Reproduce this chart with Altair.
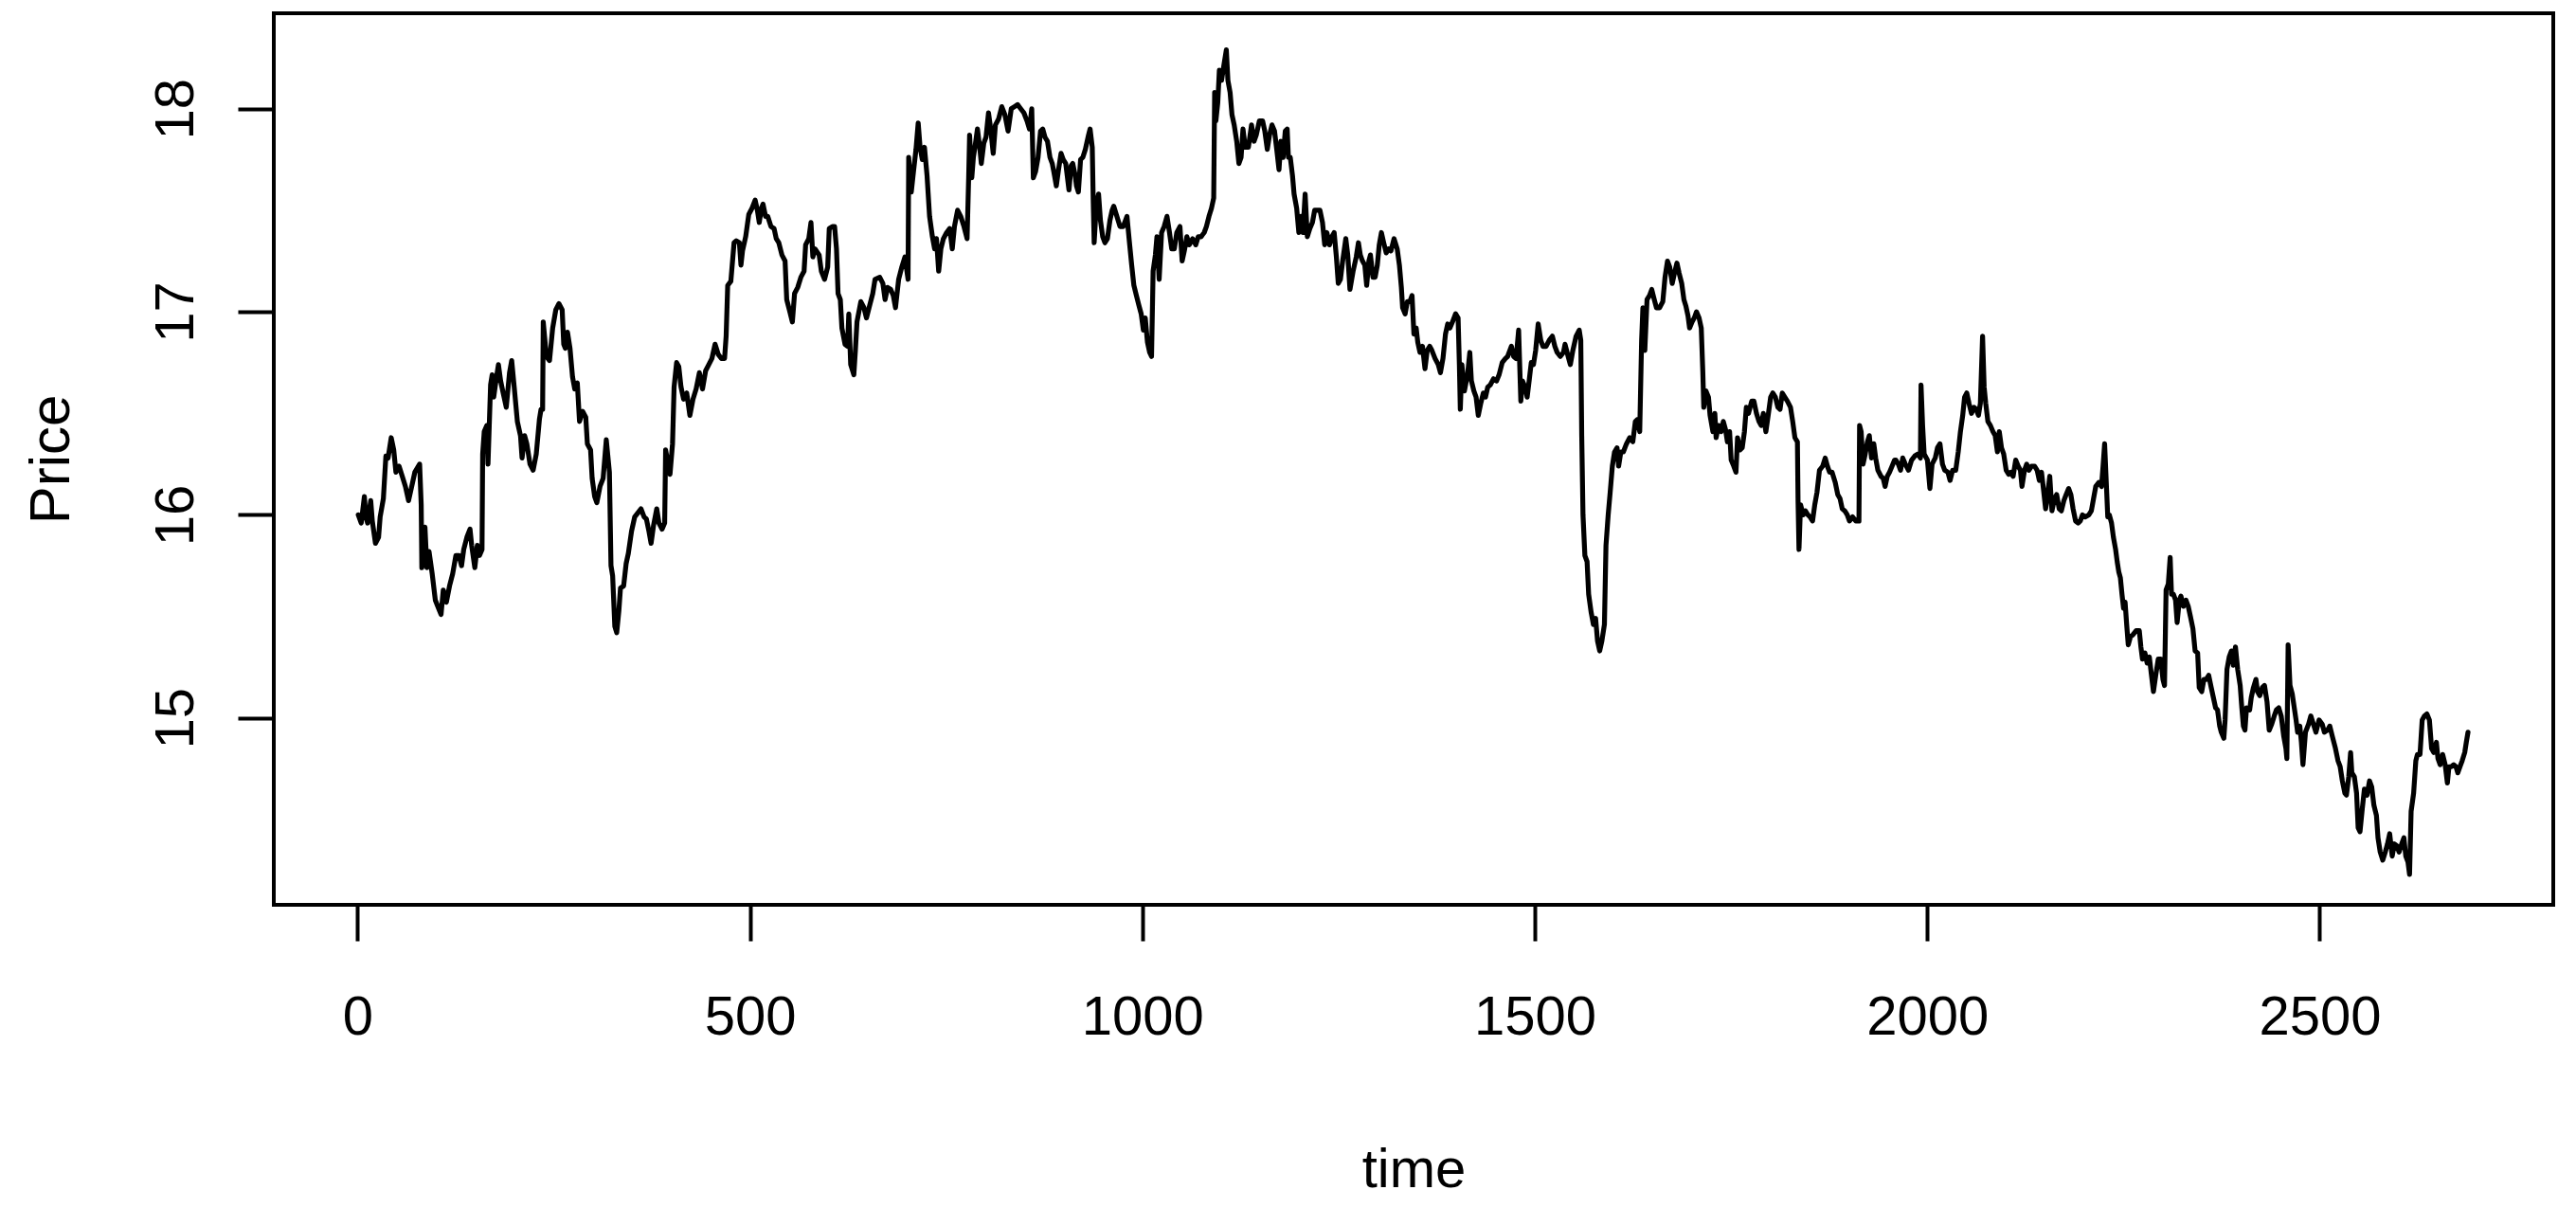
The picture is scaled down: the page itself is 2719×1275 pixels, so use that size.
import altair as alt
import pandas as pd

# time index and price, segment by segment
time = [
    # A
    1, 4.8, 8.8, 10.8, 12.9, 16.9, 18.9, 22.9, 26.9, 28.9,
    33.0, 36.2, 39.0, 43.0, 46.2, 49.0, 53.0, 57.1, 61.1, 65.1,
    69.1, 73.1, 79.2, 81.2, 82.0, 86.0, 88.4, 91.2, 95.2, 99.2,
    103.3, 106.5, 109.3, 113.3, 117.3, 121.3, 125.4, 129.4, 132.6, 135.4,
    139.4, 143.4, 145.5, 149.5, 152.7, 155.5, 158.7, 159.5, 161.5, 164.7,
    166.3, 169.6, 171.6, 173.6, 176.8, 179.6, 182.4, 185.6, 189.6, 193.7,
    196.5, 199.7, 203.7, 207.7, 209.7, 213.0, 215.8, 219.8, 223.8, 227.8,
    231.8, 233.9, 235.9, 236.7,
    # B
    240.7, 244.7, 248.7, 252.7, 256.7, 260.8, 262.8, 264.8, 267.6, 270.8,
    274.0, 276.8, 280.1, 282.9, 286.9, 290.9, 292.9, 297.0, 299.0, 302.2,
    305.0, 309.0, 313.0, 317.0, 319.0, 321.0, 323.0, 325.1, 327.9, 330.3,
    333.1, 335.1, 339.1, 342.3, 345.1, 349.2, 353.2, 357.2, 361.2, 365.2,
    368.1, 371.3, 374.1, 377.3, 381.3, 384.1, 388.1, 391.4, 392.6, 395.4,
    398.2, 401.4, 403.4, 406.6, 409.4, 412.2, 415.5, 419.5, 423.5, 427.5,
    431.5, 435.6, 439.6, 443.6, 447.6, 451.6, 455.6, 459.7, 463.7, 467.7,
    469.7, 471.7, 475.7, 479.8, 482.6,
    # C
    486.6, 488.6, 490.6, 494.6, 498.6, 502.7, 506.7, 509.5, 511.9, 514.7,
    516.7, 519.9, 522.7, 526.8, 530.8, 533.6, 536.8, 540.8, 544.8, 546.9,
    550.9, 554.1, 556.9, 560.9, 564.9, 569.0, 571.0, 575.0, 577.8, 580.2,
    583.0, 588.2, 591.0, 595.1, 599.1, 601.1, 605.1, 607.9, 610.3, 612.3,
    615.2, 617.2, 621.2, 624.4, 626.0, 628.4, 632.4, 634.4, 636.4, 641.3,
    645.3, 648.5, 652.5, 656.5, 659.4, 665.4, 669.4, 672.2, 675.4, 679.4,
    682.7, 685.5, 689.5, 693.5, 697.5, 701.5, 702.3, 705.6, 708.4, 711.6,
    714.4, 716.8, 719.6, 722.4, 725.7, 728.9,
    # D
    732.5, 735.3, 737.7, 740.5, 743.3, 746.5, 750.6, 754.6, 757.8, 760.6,
    764.6, 768.6, 772.7, 776.7, 778.7, 779.9, 782.7, 784.7, 786.7, 789.9,
    792.8, 794.8, 798.0, 800.8, 804.0, 806.8, 810.0, 812.8, 816.9, 820.9,
    824.9, 828.9, 833.0, 837.0, 841.0, 845.0, 849.0, 853.0, 856.2, 859.1,
    861.1, 863.9, 867.1, 870.3, 873.1, 875.9, 879.1, 882.3, 885.2, 887.2,
    890.4, 893.2, 896.4, 899.2, 902.4, 906.5, 909.3, 911.3, 914.5, 916.1,
    918.5, 921.3, 924.1, 927.4, 931.4, 933.4, 936.2, 937.4, 938.6, 941.4,
    944.2, 946.6, 949.5, 952.3, 955.5, 958.7, 961.5, 963.5, 967.5, 971.5,
    975.6,
    # E
    980.4, 983.6, 986.4, 989.2, 992.4, 995.7, 998.5, 1001.3, 1003.7, 1006.5,
    1009.3, 1011.7, 1013.7, 1016.6, 1018.6, 1021.4, 1024.5, 1027.8, 1031.4, 1034.6,
    1037.4, 1040.7, 1043.9, 1047.9, 1050.7, 1053.5, 1056.7, 1059.9, 1064.0, 1068.0,
    1071.2, 1074.8, 1078.8, 1081.6, 1084.9, 1088.1, 1090.9, 1092.1, 1093.7, 1096.1,
    1098.1, 1100.9, 1104.1, 1107.0, 1109.0, 1111.8, 1114.2, 1117.0, 1120.2, 1123.0,
    1125.8, 1128.2, 1131.1, 1135.1, 1139.1, 1142.3, 1145.1, 1149.1, 1153.2, 1156.0,
    1159.2, 1162.0, 1165.2, 1168.4, 1171.2, 1174.1, 1176.5, 1179.3, 1182.1, 1184.5,
    1186.1, 1188.5, 1191.3, 1193.3, 1196.6, 1199.4, 1202.2, 1204.6, 1207.4, 1210.2,
    1213.4, 1216.7, 1219.5,
    # F
    1222.3, 1226.3, 1229.5, 1232.3, 1235.1, 1238.4, 1241.6, 1244.4, 1247.2, 1249.6,
    1252.4, 1255.2, 1259.2, 1261.7, 1264.5, 1268.5, 1272.5, 1275.3, 1277.7, 1280.5,
    1283.4, 1285.8, 1288.6, 1290.6, 1293.8, 1296.6, 1299.4, 1301.8, 1304.6, 1307.5,
    1310.7, 1313.9, 1316.7, 1320.7, 1324.7, 1327.5, 1330.0, 1331.6, 1334.8, 1337.6,
    1340.8, 1343.6, 1346.0, 1348.9, 1350.9, 1353.7, 1356.9, 1360.1, 1362.9, 1366.1,
    1368.9, 1372.9, 1377.0, 1379.8, 1383.0, 1386.2, 1389.0, 1391.8, 1395.1, 1399.1,
    1402.3, 1403.9, 1405.1, 1407.1, 1410.3, 1414.3, 1417.2, 1419.2, 1422.4, 1425.2,
    1428.0, 1431.2, 1434.4, 1437.2, 1440.1, 1443.3, 1447.3, 1451.3, 1454.5, 1458.5,
    1462.6, 1465.4,
    # G
    1468.2, 1470.2, 1473.0, 1476.2, 1479.4, 1482.2, 1484.3, 1487.5, 1490.3, 1493.1,
    1495.5, 1498.3, 1501.1, 1504.3, 1507.6, 1510.4, 1514.4, 1518.4, 1522.4, 1525.6,
    1528.5, 1532.5, 1536.5, 1538.5, 1542.5, 1545.3, 1548.5, 1552.6, 1556.6, 1558.6,
    1559.8, 1561.4, 1563.8, 1566.6, 1568.6, 1571.8, 1574.7, 1577.5, 1579.9, 1582.7,
    1585.5, 1588.7, 1590.7, 1593.5, 1596.0, 1598.8, 1601.6, 1604.8, 1606.8, 1609.6,
    1612.8, 1616.8, 1620.9, 1624.9, 1628.1, 1630.9, 1633.7, 1636.1, 1637.7, 1640.2,
    1643.0, 1646.2, 1649.0, 1652.2, 1655.0, 1659.0, 1663.1, 1665.9, 1669.1, 1671.9,
    1675.1, 1677.9, 1681.1, 1683.9, 1687.2, 1690.0, 1692.4, 1695.2, 1697.2, 1700.4,
    1703.2, 1706.0, 1709.3, 1712.1, 1714.1, 1715.3, 1718.1, 1721.3, 1723.3,
    # H
    1726.9, 1729.4, 1731.0, 1734.2, 1737.4, 1740.2, 1743.0, 1745.4, 1748.2, 1750.2,
    1753.5, 1756.3, 1758.3, 1761.5, 1764.3, 1767.1, 1769.5, 1772.3, 1776.4, 1779.2,
    1782.4, 1785.6, 1788.4, 1791.2, 1794.4, 1797.7, 1800.5, 1803.3, 1806.5, 1809.7,
    1812.5, 1815.3, 1818.5, 1821.8, 1825.8, 1828.6, 1831.4, 1834.6, 1835.4, 1836.6,
    1838.6, 1841.9, 1844.7, 1847.9, 1850.7, 1853.9, 1856.7, 1859.5, 1862.7, 1866.8,
    1870.0, 1872.8, 1875.6, 1878.8, 1882.8, 1886.0, 1888.9, 1891.7, 1894.9, 1898.1,
    1900.9, 1904.9, 1909.0, 1913.0, 1913.8, 1915.8, 1918.2, 1921.0, 1923.8, 1926.2,
    1929.0, 1931.9, 1934.3, 1937.1, 1941.1, 1943.9, 1946.3, 1949.1, 1951.9, 1955.2,
    1958.4,
    # I
    1960.0, 1963.2, 1966.0, 1968.8, 1972.0, 1976.1, 1980.1, 1984.1, 1988.1, 1991.3,
    1992.1, 1994.1, 1996.1, 2000.2, 2003.4, 2006.2, 2010.2, 2013.0, 2016.2, 2019.4,
    2022.3, 2026.3, 2029.1, 2032.3, 2036.3, 2039.5, 2042.3, 2045.2, 2047.6, 2050.4,
    2053.2, 2056.4, 2059.6, 2062.4, 2065.3, 2067.7, 2070.5, 2072.5, 2074.5, 2077.3,
    2080.5, 2083.7, 2086.6, 2089.4, 2091.8, 2094.6, 2097.4, 2100.6, 2103.8, 2106.6,
    2109.4, 2112.7, 2115.9, 2118.7, 2120.7, 2123.9, 2126.7, 2129.5, 2132.8, 2136.8,
    2140.0, 2142.8, 2145.6, 2148.0, 2150.8, 2152.8, 2156.1, 2158.9, 2162.1, 2164.9,
    2168.1, 2170.9, 2174.1, 2177.0, 2180.2, 2183.0, 2185.8, 2189.0, 2192.2, 2195.0,
    2197.8, 2201.1,
    # J
    2205.9, 2209.1, 2211.9, 2214.7, 2218.7, 2222.0, 2224.0, 2226.0, 2228.0, 2230.0,
    2232.0, 2234.8, 2237.2, 2240.0, 2242.0, 2244.0, 2246.1, 2248.1, 2250.1, 2252.1,
    2254.1, 2256.1, 2258.9, 2262.1, 2266.2, 2270.2, 2272.2, 2274.2, 2277.4, 2280.2,
    2283.0, 2285.4, 2288.2, 2291.1, 2294.3, 2297.5, 2300.3, 2302.3, 2304.3, 2307.1,
    2309.5, 2311.2, 2313.6, 2316.4, 2318.4, 2321.2, 2323.2, 2326.4, 2329.6, 2332.5,
    2335.3, 2338.5, 2341.3, 2344.5, 2346.5, 2349.7, 2352.5, 2355.3, 2358.6, 2361.8,
    2364.6, 2367.4, 2369.8, 2372.6, 2374.6, 2377.9, 2379.5, 2381.9, 2384.7, 2387.5,
    2389.9, 2392.7, 2395.5, 2398.7, 2400.8, 2402.8, 2404.8, 2406.8, 2410.8, 2412.8,
    2415.6, 2418.8, 2420.8, 2423.7, 2426.9, 2429.7, 2432.9, 2435.7, 2438.9, 2442.1,
    2444.9, 2447.8, 2451.0, 2454.2, 2457.0, 2458.2, 2459.8, 2462.2, 2465.0,
    # K
    2469.9, 2471.9, 2474.7, 2476.7, 2478.7, 2481.9, 2485.9, 2488.7, 2492.0, 2495.2,
    2499.2, 2503.2, 2506.0, 2510.0, 2512.9, 2516.1, 2520.1, 2523.3, 2526.1, 2528.9,
    2532.1, 2534.1, 2537.0, 2539.4, 2541.0, 2544.2, 2547.0, 2549.0, 2551.4, 2554.2,
    2557.0, 2560.3, 2563.5, 2566.3, 2569.1, 2572.3, 2574.3, 2577.1, 2580.4, 2583.6,
    2586.4, 2589.2, 2592.4, 2595.2, 2598.4, 2601.2, 2604.5, 2607.3, 2609.7, 2612.5,
    2614.5, 2616.5, 2619.7, 2622.5, 2624.5, 2627.8, 2630.6, 2633.4, 2636.6, 2639.8,
    2642.6, 2645.4, 2648.7, 2650.7, 2653.5, 2656.7, 2659.9, 2662.7, 2664.7, 2667.5,
    2670.8, 2673.6, 2676.0, 2678.8, 2681.6, 2684.8, 2686.8, 2689.0,
]

price = [
    # A
    16.00, 15.96, 16.09, 15.99, 15.96, 16.07, 15.97, 15.86, 15.89, 15.99,
    16.08, 16.29, 16.28, 16.38, 16.32, 16.21, 16.24, 16.19, 16.14, 16.07,
    16.14, 16.21, 16.25, 16.05, 15.74, 15.94, 15.74, 15.82, 15.71, 15.58,
    15.54, 15.51, 15.63, 15.57, 15.65, 15.71, 15.80, 15.80, 15.75, 15.83,
    15.89, 15.93, 15.85, 15.74, 15.85, 15.80, 15.83, 16.30, 16.41, 16.44,
    16.25, 16.64, 16.69, 16.58, 16.67, 16.74, 16.66, 16.60, 16.53, 16.70,
    16.76, 16.63, 16.46, 16.39, 16.28, 16.39, 16.35, 16.25, 16.22, 16.30,
    16.47, 16.52, 16.52, 16.95,
    # B
    16.78, 16.76, 16.92, 17.01, 17.04, 17.01, 16.84, 16.82, 16.90, 16.82,
    16.68, 16.62, 16.65, 16.46, 16.51, 16.48, 16.35, 16.32, 16.18, 16.09,
    16.06, 16.14, 16.18, 16.37, 16.29, 16.21, 15.75, 15.70, 15.45, 15.42,
    15.53, 15.64, 15.65, 15.76, 15.81, 15.92, 15.99, 16.01, 16.03, 15.99,
    15.98, 15.92, 15.86, 15.95, 16.03, 15.96, 15.93, 15.96, 16.32, 16.26,
    16.20, 16.35, 16.63, 16.75, 16.73, 16.63, 16.57, 16.60, 16.49, 16.57,
    16.62, 16.70, 16.62, 16.71, 16.74, 16.77, 16.84, 16.79, 16.77, 16.77,
    16.88, 17.13, 17.15, 17.34, 17.35,
    # C
    17.34, 17.23, 17.30, 17.37, 17.48, 17.51, 17.55, 17.50, 17.44, 17.51,
    17.53, 17.47, 17.47, 17.42, 17.41, 17.36, 17.34, 17.28, 17.25, 17.06,
    17.00, 16.95, 17.09, 17.12, 17.17, 17.20, 17.33, 17.36, 17.44, 17.27,
    17.31, 17.28, 17.20, 17.16, 17.22, 17.41, 17.42, 17.42, 17.31, 17.09,
    17.06, 16.92, 16.84, 16.83, 16.99, 16.74, 16.69, 16.81, 16.95, 17.05,
    17.02, 16.97, 17.03, 17.09, 17.16, 17.17, 17.14, 17.06, 17.12, 17.11,
    17.08, 17.02, 17.16, 17.22, 17.27, 17.16, 17.76, 17.59, 17.69, 17.80,
    17.93, 17.81, 17.75, 17.81, 17.67, 17.47,
    # D
    17.37, 17.31, 17.36, 17.20, 17.31, 17.36, 17.39, 17.41, 17.31, 17.42,
    17.50, 17.47, 17.42, 17.36, 17.66, 17.87, 17.66, 17.76, 17.81, 17.90,
    17.81, 17.73, 17.83, 17.86, 17.98, 17.90, 17.78, 17.92, 17.95, 18.01,
    17.97, 17.89, 18.00, 18.01, 18.02, 18.00, 17.98, 17.94, 17.90, 18.00,
    17.66, 17.69, 17.76, 17.89, 17.90, 17.86, 17.84, 17.76, 17.73, 17.69,
    17.62, 17.70, 17.78, 17.75, 17.73, 17.60, 17.72, 17.73, 17.67, 17.62,
    17.59, 17.75, 17.76, 17.80, 17.87, 17.90, 17.81, 17.55, 17.34, 17.53,
    17.58, 17.45, 17.37, 17.34, 17.36, 17.45, 17.50, 17.52, 17.47, 17.42,
    17.42,
    # E
    17.47, 17.34, 17.23, 17.13, 17.08, 17.03, 16.99, 16.91, 16.97, 16.85,
    16.80, 16.78, 17.20, 17.28, 17.37, 17.16, 17.39, 17.42, 17.47, 17.39,
    17.31, 17.31, 17.39, 17.42, 17.25, 17.30, 17.37, 17.33, 17.36, 17.33,
    17.37, 17.37, 17.39, 17.42, 17.47, 17.51, 17.56, 18.08, 17.94, 18.03,
    18.19, 18.14, 18.22, 18.29, 18.14, 18.08, 17.97, 17.92, 17.84, 17.73,
    17.76, 17.90, 17.81, 17.81, 17.92, 17.84, 17.87, 17.94, 17.94, 17.89,
    17.80, 17.87, 17.92, 17.89, 17.80, 17.70, 17.84, 17.76, 17.89, 17.90,
    17.76, 17.76, 17.67, 17.58, 17.51, 17.39, 17.47, 17.39, 17.58, 17.37,
    17.41, 17.44, 17.50,
    # F
    17.50, 17.50, 17.44, 17.33, 17.39, 17.33, 17.37, 17.39, 17.27, 17.14,
    17.16, 17.25, 17.36, 17.28, 17.11, 17.20, 17.27, 17.34, 17.28, 17.25,
    17.23, 17.13, 17.25, 17.28, 17.17, 17.17, 17.23, 17.33, 17.39, 17.34,
    17.29, 17.31, 17.30, 17.36, 17.31, 17.23, 17.12, 17.02, 16.99, 17.05,
    17.05, 17.08, 16.89, 16.92, 16.85, 16.80, 16.83, 16.72, 16.81, 16.83,
    16.81, 16.77, 16.74, 16.70, 16.77, 16.89, 16.94, 16.92, 16.95, 16.99,
    16.97, 16.74, 16.52, 16.74, 16.61, 16.69, 16.80, 16.66, 16.61, 16.58,
    16.49, 16.55, 16.60, 16.58, 16.63, 16.64, 16.67, 16.66, 16.69, 16.75,
    16.77, 16.78,
    # G
    16.81, 16.83, 16.78, 16.77, 16.91, 16.56, 16.66, 16.63, 16.58, 16.67,
    16.75, 16.74, 16.81, 16.94, 16.86, 16.83, 16.83, 16.86, 16.88, 16.83,
    16.80, 16.78, 16.80, 16.84, 16.78, 16.74, 16.81, 16.88, 16.91, 16.86,
    16.39, 16.00, 15.80, 15.77, 15.61, 15.52, 15.46, 15.49, 15.38, 15.33,
    15.38, 15.46, 15.85, 16.00, 16.11, 16.24, 16.31, 16.33, 16.24, 16.31,
    16.31, 16.35, 16.38, 16.36, 16.46, 16.47, 16.41, 16.86, 17.02, 16.81,
    17.06, 17.08, 17.11, 17.06, 17.02, 17.02, 17.05, 17.17, 17.25, 17.22,
    17.14, 17.19, 17.24, 17.19, 17.14, 17.06, 17.03, 16.98, 16.92, 16.95,
    16.97, 17.00, 16.97, 16.92, 16.70, 16.53, 16.61, 16.58, 16.49,
    # H
    16.41, 16.50, 16.38, 16.44, 16.41, 16.46, 16.42, 16.36, 16.41, 16.27,
    16.24, 16.21, 16.38, 16.32, 16.33, 16.41, 16.53, 16.50, 16.56, 16.56,
    16.50, 16.46, 16.44, 16.50, 16.41, 16.50, 16.58, 16.60, 16.58, 16.53,
    16.52, 16.60, 16.58, 16.56, 16.53, 16.46, 16.38, 16.36, 16.07, 15.83,
    16.05, 16.00, 16.02, 16.00, 15.99, 15.97, 16.05, 16.11, 16.22, 16.24,
    16.28, 16.24, 16.21, 16.21, 16.16, 16.10, 16.08, 16.03, 16.02, 16.00,
    15.97, 15.99, 15.97, 15.97, 16.44, 16.41, 16.25, 16.30, 16.36, 16.39,
    16.28, 16.35, 16.28, 16.22, 16.19, 16.18, 16.14, 16.19, 16.21, 16.24,
    16.27,
    # I
    16.27, 16.25, 16.22, 16.28, 16.25, 16.22, 16.27, 16.29, 16.30, 16.28,
    16.64, 16.44, 16.30, 16.27, 16.13, 16.25, 16.28, 16.33, 16.35, 16.25,
    16.22, 16.21, 16.17, 16.22, 16.22, 16.31, 16.41, 16.49, 16.58, 16.60,
    16.55, 16.50, 16.53, 16.52, 16.49, 16.55, 16.88, 16.63, 16.55, 16.46,
    16.44, 16.41, 16.39, 16.31, 16.41, 16.33, 16.30, 16.22, 16.20, 16.21,
    16.19, 16.27, 16.24, 16.22, 16.14, 16.22, 16.25, 16.22, 16.24, 16.24,
    16.22, 16.17, 16.21, 16.13, 16.03, 16.08, 16.19, 16.02, 16.08, 16.10,
    16.03, 16.02, 16.07, 16.10, 16.13, 16.10, 16.03, 15.97, 15.96, 15.97,
    16.00, 15.99,
    # J
    16.00, 16.02, 16.08, 16.14, 16.16, 16.14, 16.24, 16.35, 16.17, 15.99,
    16.00, 15.96, 15.89, 15.83, 15.77, 15.72, 15.69, 15.61, 15.54, 15.57,
    15.46, 15.36, 15.40, 15.41, 15.43, 15.43, 15.35, 15.29, 15.32, 15.27,
    15.30, 15.22, 15.13, 15.21, 15.29, 15.29, 15.19, 15.16, 15.63, 15.66,
    15.79, 15.61, 15.61, 15.58, 15.47, 15.58, 15.60, 15.55, 15.58, 15.55,
    15.50, 15.44, 15.33, 15.32, 15.15, 15.13, 15.19, 15.19, 15.21, 15.15,
    15.10, 15.05, 15.04, 14.96, 14.93, 14.90, 14.99, 15.24, 15.30, 15.33,
    15.26, 15.35, 15.24, 15.16, 15.05, 14.96, 14.94, 15.05, 15.04, 15.10,
    15.15, 15.19, 15.13, 15.11, 15.15, 15.16, 15.08, 14.94, 14.97, 15.01,
    15.04, 15.05, 15.01, 14.91, 14.85, 14.80, 15.36, 15.16, 15.12,
    # K
    14.99, 14.93, 14.96, 14.88, 14.77, 14.93, 14.97, 15.01, 14.97, 14.93,
    14.99, 14.97, 14.93, 14.94, 14.96, 14.91, 14.85, 14.79, 14.76, 14.69,
    14.63, 14.62, 14.71, 14.83, 14.73, 14.71, 14.63, 14.46, 14.44, 14.55,
    14.65, 14.62, 14.69, 14.66, 14.57, 14.52, 14.41, 14.34, 14.30, 14.34,
    14.38, 14.43, 14.32, 14.38, 14.37, 14.34, 14.38, 14.41, 14.32, 14.29,
    14.23, 14.54, 14.63, 14.79, 14.82, 14.82, 14.99, 15.01, 15.02, 14.99,
    14.85, 14.83, 14.88, 14.80, 14.77, 14.82, 14.77, 14.68, 14.76, 14.76,
    14.77, 14.76, 14.73, 14.76, 14.79, 14.83, 14.88, 14.93,
]

x_ticks = [0, 500, 1000, 1500, 2000, 2500]
y_ticks = [15, 16, 17, 18]

n = min(len(time), len(price))
df = pd.DataFrame({"time": time[:n], "price": price[:n], "idx": list(range(n))})

W, H = 2406, 941
FONT = "Liberation Sans"
FS = 58

x_axis = alt.Axis(
    values=x_ticks, format="d", title="time", domain=False, grid=False,
    ticks=True, tickColor="black", tickWidth=4, tickSize=38,
    labelFont=FONT, labelFontSize=FS, labelColor="black",
    labelPadding=81, labelBaseline="middle", labelAlign="center",
    labelFlush=False, labelOverlap=False,
    titleFont=FONT, titleFontSize=FS, titleFontWeight="normal", titleColor="black",
    titleX=W / 2, titleY=280, titleBaseline="middle", titleAlign="center",
)
y_axis = alt.Axis(
    values=y_ticks, format="d", title="Price", domain=False, grid=False,
    ticks=True, tickColor="black", tickWidth=4, tickSize=38,
    labelFont=FONT, labelFontSize=FS, labelColor="black",
    labelPadding=65, labelAngle=270, labelAlign="center", labelBaseline="middle",
    labelFlush=False, labelOverlap=False,
    titleFont=FONT, titleFontSize=60, titleFontWeight="normal", titleColor="black",
    titleX=-235, titleY=H / 2, titleAngle=270, titleBaseline="middle", titleAlign="center",
)

chart = alt.Chart(df).mark_line(
    color="black", strokeWidth=5.2, strokeJoin="round", strokeCap="round"
).encode(
    x=alt.X("time:Q", scale=alt.Scale(domain=[-106.6, 2797.6], nice=False, zero=False), axis=x_axis),
    y=alt.Y("price:Q", scale=alt.Scale(domain=[14.08, 18.47], nice=False, zero=False), axis=y_axis),
    order=alt.Order("idx:Q"),
).properties(
    width=W, height=H,
    autosize=alt.AutoSizeParams(type="none"),
    padding={"left": 281, "top": 6, "right": 16, "bottom": 312},
    background="white",
).configure_view(stroke="black", strokeWidth=4)

chart.save("out.html", embed_options={"renderer": "svg", "actions": False})
